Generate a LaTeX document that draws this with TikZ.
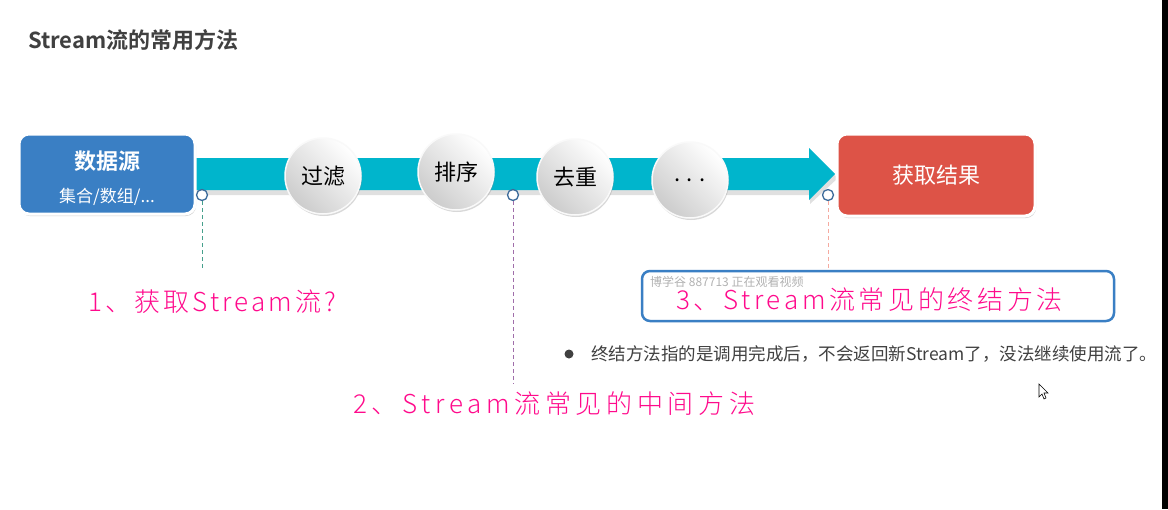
\documentclass[tikz,border=0pt]{standalone}
\usepackage{fontspec}
\setmainfont{Noto Sans CJK SC}
\newfontfamily\cjkb{Noto Sans CJK SC Bold}
\newfontfamily\cjkl{Noto Sans CJK SC Light}
\usetikzlibrary{shadows,shapes.geometric}
\definecolor{srcblue}{HTML}{3A7FC4}
\definecolor{teal}{HTML}{00B5CC}
\definecolor{resred}{HTML}{DD5347}
\definecolor{hand}{HTML}{FF0A8C}
\definecolor{txtgray}{HTML}{404040}
\definecolor{dotblue}{HTML}{3B6A9A}
\tikzset{
  mainbox/.style={draw=white, line width=3pt, rounded corners=10pt, minimum width=176pt, minimum height=80pt,
    drop shadow={shadow xshift=1pt, shadow yshift=-2pt, opacity=0.35}},
  ball/.style={circle, draw=white!95!gray, line width=1.5pt, minimum size=76pt, inner sep=0pt,
    left color=gray!40, right color=white, shading angle=135,
    drop shadow={shadow xshift=1pt, shadow yshift=-2pt, opacity=0.3}, font=\fontsize{22}{24}\selectfont},
  anchorpt/.style={circle, draw=dotblue, line width=1.3pt, fill=white, minimum size=11pt, inner sep=0pt},
  handtxt/.style={text=hand, font=\cjkl\fontsize{26}{28}\selectfont, anchor=west, inner sep=0pt},
}
\begin{document}
\begin{tikzpicture}[x=1pt,y=-1pt]
\useasboundingbox (0,0) rectangle (1168,509);
\fill[white] (0,0) rectangle (1168,509);
\fill[black] (1162,0) rectangle (1168,509);
% title
\node[anchor=west, inner sep=0pt, text=txtgray, font=\cjkb\fontsize{22}{24}\selectfont] (title) at (28,40) {Stream流的常用方法};
% arrow band
\fill[black, opacity=0.12] (195,162) -- (810,162) -- (810,153) -- (838,178) -- (810,204) -- (810,195) -- (195,195) -- cycle;
\fill[teal] (195,158) -- (809,158) -- (809,148) -- (835,174) -- (809,200) -- (809,190) -- (195,190) -- cycle;
\coordinate (tip) at (835,174);
% boxes
\node[mainbox, fill=srcblue] (src) at (107,174) {};
\node[text=white, font=\cjkb\fontsize{22}{24}\selectfont] (srct) at (107,161) {数据源};
\node[text=white, font=\fontsize{17}{19}\selectfont] (srcs) at (107,197) {集合/数组/...};
\node[mainbox, fill=resred, minimum width=198pt, minimum height=82pt] (res) at (936,175) {};
\node[text=white, font=\fontsize{22}{24}\selectfont] (rest) at (936,175) {获取结果};
% balls
\node[ball] (b1) at (323,176) {过滤};
\node[ball] (b2) at (456,172) {排序};
\node[ball] (b3) at (575,177) {去重};
\node[ball] (b4) at (690,180) {. . .};
% anchor points and dashed lines
\node[anchorpt] (p1) at (202,195) {};
\node[anchorpt] (p2) at (513,195) {};
\node[anchorpt] (p3) at (828,195) {};
\coordinate (e1) at (202,268);
\coordinate (e2) at (513,384);
\coordinate (e3) at (828,272);
\draw[color={rgb,255:red,70;green,160;blue,140}, line width=1pt, dash pattern=on 4pt off 3pt] (p1.south) -- (e1);
\draw[color={rgb,255:red,160;green,110;blue,170}, line width=1pt, dash pattern=on 4pt off 3pt] (p2.south) -- (e2);
\draw[color={rgb,255:red,245;green,170;blue,160}, line width=1pt, dash pattern=on 4pt off 3pt] (p3.south) -- (e3);
% labels
\node[handtxt] (l1) at (88,302) {\addfontfeatures{LetterSpace=12}1、获取Stream流?};
\node[handtxt] (l2) at (353,404) {\addfontfeatures{LetterSpace=18}2、Stream流常见的中间方法};
\node[draw=srcblue, line width=2.5pt, rounded corners=8pt, minimum width=472pt, minimum height=50pt] (frame) at (878,296) {};
\node[handtxt] (l3) at (676,300) {\addfontfeatures{LetterSpace=14}3、Stream流常见的终结方法};
\node[anchor=west, inner sep=0pt, text=gray!60, font=\fontsize{12}{13}\selectfont] (wm) at (650,282) {博学谷 887713 正在观看视频};
% bullet
\fill[txtgray] (569,354) circle (4.5pt);
\node[anchor=west, inner sep=0pt, text=txtgray, font=\fontsize{17.5}{19}\selectfont] (note) at (591,354) {终结方法指的是调用完成后，不会返回新Stream了，没法继续使用流了。};
% cursor
\draw[line width=0.6pt, fill=white] (1039,384) -- (1039,397) -- (1042,394) -- (1044,399) -- (1046,398) -- (1044,393) -- (1048,393) -- cycle;
\end{tikzpicture}
\end{document}
